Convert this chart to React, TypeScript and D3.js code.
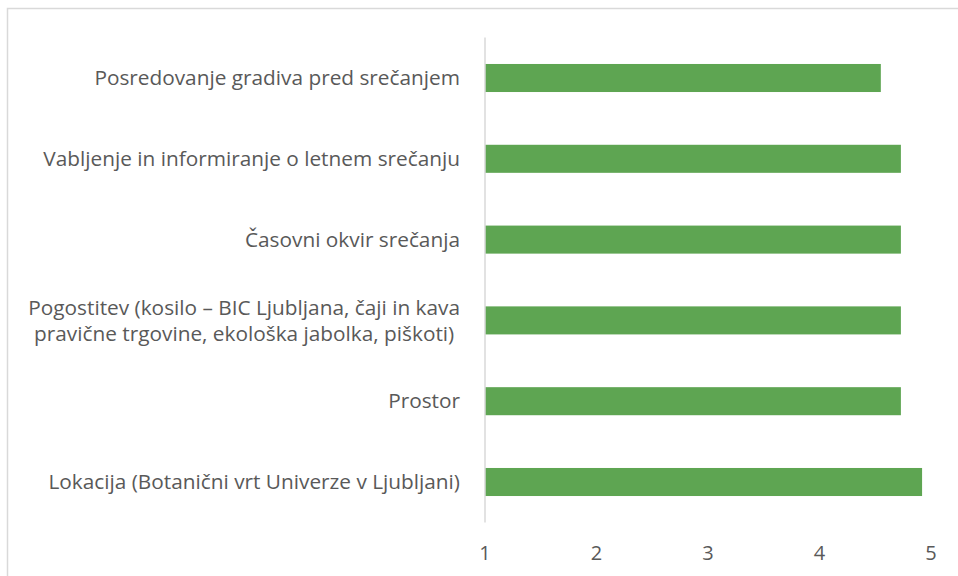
import React, { useEffect, useRef } from 'react';
import * as d3 from 'd3';

// categories listed top to bottom, each one possibly split into lines
const categories: string[][] = [
  ['Posredovanje gradiva pred srečanjem'],
  ['Vabljenje in informiranje o letnem srečanju'],
  ['Časovni okvir srečanja'],
  ['Pogostitev (kosilo – BIC Ljubljana, čaji in kava', 'pravične trgovine, ekološka jabolka, piškoti)'],
  ['Prostor'],
  ['Lokacija (Botanični vrt Univerze v Ljubljani)'],
];
const scores: number[] = [4.55, 4.73, 4.73, 4.73, 4.73, 4.92];
const xTicks: number[] = [1, 2, 3, 4, 5];

const W = 958;
const H = 576;
const FONT = '"Open Sans", sans-serif';
const TEXT = '#595959';

export default function App() {
  const ref = useRef<SVGSVGElement>(null);

  useEffect(() => {
    const svg = d3.select(ref.current);
    svg.selectAll('*').remove();

    const margin = { top: 37.6, right: 27, bottom: 53.6, left: 485 };
    const plotW = W - margin.left - margin.right;
    const plotH = H - margin.top - margin.bottom;

    // chart border (runs off the right/bottom of the page)
    svg.append('rect')
      .attr('x', 7.5).attr('y', 8.5)
      .attr('width', W).attr('height', H)
      .attr('fill', 'none')
      .attr('stroke', '#d9d9d9')
      .attr('stroke-width', 1.5);

    const g = svg.append('g')
      .attr('transform', `translate(${margin.left},${margin.top})`);

    const x = d3.scaleLinear().domain([1, 5]).range([0, plotW]);
    const y = d3.scaleBand<number>()
      .domain(d3.range(categories.length))
      .range([0, plotH])
      .paddingInner(0.653)
      .paddingOuter(0.3265);

    g.selectAll('rect.bar')
      .data(scores)
      .join('rect')
      .attr('class', 'bar')
      .attr('x', x(1))
      .attr('y', (d, i) => y(i)!)
      .attr('width', d => x(d) - x(1))
      .attr('height', y.bandwidth())
      .attr('fill', '#5ea552');

    // vertical category axis line
    g.append('line')
      .attr('x1', 0).attr('x2', 0)
      .attr('y1', 0).attr('y2', plotH)
      .attr('stroke', '#d9d9d9')
      .attr('stroke-width', 1.5);

    // x tick labels
    g.selectAll('text.tick')
      .data(xTicks)
      .join('text')
      .attr('class', 'tick')
      .attr('x', d => x(d))
      .attr('y', plotH + 38)
      .attr('text-anchor', 'middle')
      .style('font-family', FONT)
      .style('font-size', '20px')
      .style('fill', TEXT)
      .text(d => d);

    // category labels, right aligned, lines centred within the block
    const lineH = 26;
    const labelRight = -25;
    categories.forEach((lines, i) => {
      const cy = y(i)! + y.bandwidth() / 2;
      const lab = g.append('g');
      const texts = lines.map((l, j) =>
        lab.append('text')
          .attr('y', cy + (j - (lines.length - 1) / 2) * lineH)
          .attr('dy', '0.35em')
          .attr('text-anchor', 'middle')
          .style('font-family', FONT)
          .style('font-size', '20.8px')
          .style('fill', TEXT)
          .text(l)
      );
      const widths = texts.map(t => (t.node() as SVGTextElement).getComputedTextLength());
      const maxW = d3.max(widths) || 0;
      texts.forEach(t => t.attr('x', labelRight - maxW / 2));
    });
  }, []);

  return (
    <svg ref={ref} width={W} height={H} style={{ position: 'absolute', left: 0, top: 0, background: '#fff' }} />
  );
}
